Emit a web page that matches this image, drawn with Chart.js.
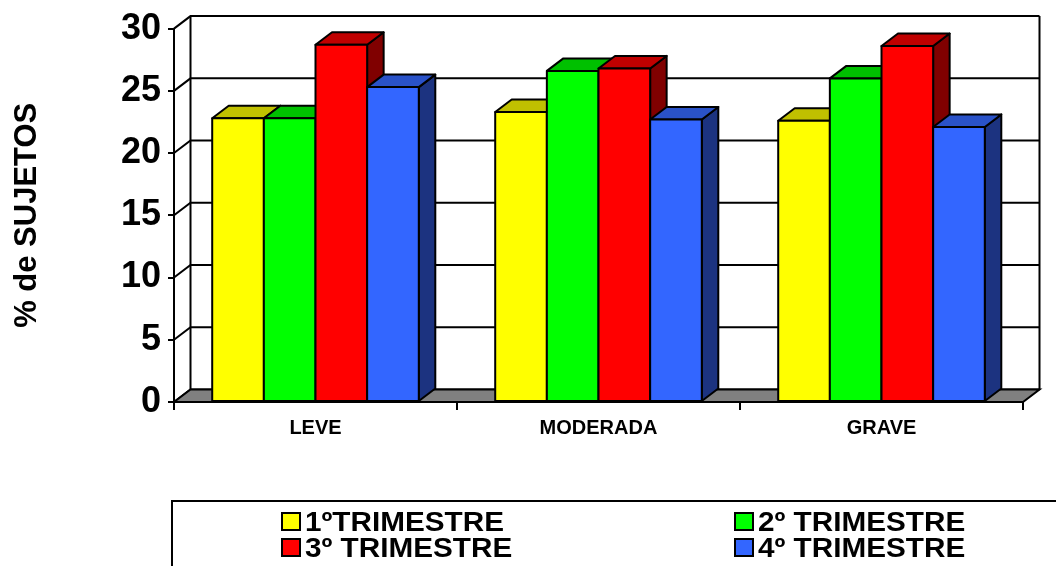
<!DOCTYPE html>
<html>
<head>
<meta charset="utf-8">
<script src="https://cdn.jsdelivr.net/npm/chart.js@4/dist/chart.umd.min.js"></script>
<style>
  html, body { margin: 0; padding: 0; background: #fff; }
  #wrap { width: 1056px; height: 566px; }
</style>
</head>
<body>
<div id="wrap"><canvas id="chart" width="1056" height="566"></canvas></div>
<script>
// datos
const categories = ['LEVE', 'MODERADA', 'GRAVE'];
const seriesLabels = ['1ºTRIMESTRE', '2º TRIMESTRE', '3º TRIMESTRE', '4º TRIMESTRE'];
const trim1 = [22.8, 23.3, 22.6];
const trim2 = [22.8, 26.6, 26.0];
const trim3 = [28.7, 26.8, 28.6];
const trim4 = [25.3, 22.7, 22.1];
const yMin = 0, yMax = 30, yStep = 5;
const yTitle = '% de SUJETOS';

// colores (frente, arriba, lado)
const frontColors = ['#FFFF00', '#00FF00', '#FF0000', '#3366FF'];
const topColors = ['#C0C000', '#00C000', '#C00000', '#2A52C8'];
const sideColors = ['#808000', '#008000', '#800000', '#1C3380'];

const FONT = "'Liberation Sans', Arial, sans-serif";
const DX = 16.5, DY = -12.5;   // profundidad 3D

// paredes y piso en perspectiva
const frame3d = {
    id: 'frame3d',
    beforeDatasetsDraw(chart) {
        const ctx = chart.ctx;
        const a = chart.chartArea;
        const y = chart.scales.y;
        ctx.save();
        ctx.lineWidth = 2;
        ctx.strokeStyle = '#000';

        // pared del fondo
        ctx.fillStyle = '#fff';
        ctx.fillRect(a.left + DX, a.top + DY, a.right - a.left, a.bottom - a.top);

        // líneas de cuadrícula: pared izquierda + fondo
        for (let v = yMin; v <= yMax; v += yStep) {
            const py = y.getPixelForValue(v);
            ctx.beginPath();
            ctx.moveTo(a.left, py);
            ctx.lineTo(a.left + DX, py + DY);
            ctx.lineTo(a.right + DX, py + DY);
            ctx.stroke();
        }
        // borde del fondo
        ctx.beginPath();
        ctx.moveTo(a.left + DX, a.bottom + DY);
        ctx.lineTo(a.left + DX, a.top + DY);
        ctx.moveTo(a.right + DX, a.top + DY);
        ctx.lineTo(a.right + DX, a.bottom + DY);
        ctx.stroke();

        // piso gris
        ctx.beginPath();
        ctx.moveTo(a.left, a.bottom);
        ctx.lineTo(a.right, a.bottom);
        ctx.lineTo(a.right + DX, a.bottom + DY);
        ctx.lineTo(a.left + DX, a.bottom + DY);
        ctx.closePath();
        ctx.fillStyle = '#808080';
        ctx.fill();
        ctx.stroke();
        ctx.restore();
    },
    // barras 3D redibujadas en orden de serie
    afterDatasetsDraw(chart) {
        const ctx = chart.ctx;
        ctx.save();
        ctx.lineWidth = 2;
        ctx.strokeStyle = '#000';
        ctx.lineJoin = 'round';
        chart.data.datasets.forEach((ds, i) => {
            const meta = chart.getDatasetMeta(i);
            meta.data.forEach(el => {
                const l = el.x - el.width / 2, r = el.x + el.width / 2;
                const t = Math.min(el.y, el.base), b = Math.max(el.y, el.base);
                // lado
                ctx.beginPath();
                ctx.moveTo(r, t);
                ctx.lineTo(r + DX, t + DY);
                ctx.lineTo(r + DX, b + DY);
                ctx.lineTo(r, b);
                ctx.closePath();
                ctx.fillStyle = sideColors[i];
                ctx.fill();
                ctx.stroke();
                // arriba
                ctx.beginPath();
                ctx.moveTo(l, t);
                ctx.lineTo(r, t);
                ctx.lineTo(r + DX, t + DY);
                ctx.lineTo(l + DX, t + DY);
                ctx.closePath();
                ctx.fillStyle = topColors[i];
                ctx.fill();
                ctx.stroke();
                // frente
                ctx.fillStyle = frontColors[i];
                ctx.fillRect(l, t, r - l, b - t);
                ctx.strokeRect(l, t, r - l, b - t);
            });
        });
        ctx.restore();
    },
    // leyenda con recuadro
    afterDraw(chart) {
        const ctx = chart.ctx;
        ctx.save();
        ctx.lineWidth = 2;
        ctx.strokeStyle = '#000';
        ctx.strokeRect(172, 501, 900, 80);

        const cols = [282, 735];
        const rows = [531, 557];
        ctx.font = 'bold 27px ' + FONT;
        ctx.textBaseline = 'alphabetic';
        ctx.textAlign = 'left';
        chart.data.datasets.forEach((ds, i) => {
            const cx = cols[i % 2], by = rows[Math.floor(i / 2)];
            ctx.fillStyle = ds.backgroundColor;
            ctx.fillRect(cx, by - 18, 18, 17);
            ctx.strokeRect(cx, by - 18, 18, 17);
            ctx.fillStyle = '#000';
            ctx.save();
            ctx.translate(cx + 23, by);
            ctx.scale(1.1, 1);
            ctx.fillText(ds.label, 0, 0);
            ctx.restore();
        });
        ctx.restore();
    }
};

const datasets = [trim1, trim2, trim3, trim4].map((d, i) => ({
    label: seriesLabels[i],
    data: d,
    backgroundColor: frontColors[i],
    borderColor: '#000',
    borderWidth: 2,
    categoryPercentage: 0.73,
    barPercentage: 1.0
}));

new Chart(document.getElementById('chart'), {
    type: 'bar',
    data: { labels: categories, datasets: datasets },
    plugins: [frame3d],
    options: {
        responsive: false,
        devicePixelRatio: 1,
        animation: false,
        layout: { padding: { top: 27, right: 33, left: 0, bottom: 0 } },
        plugins: {
            legend: { display: false },
            tooltip: { enabled: false }
        },
        scales: {
            x: {
                afterFit: s => { s.height = 164; },
                grid: {
                    offset: true,
                    drawOnChartArea: false,
                    drawTicks: true,
                    tickLength: 8,
                    color: '#000',
                    lineWidth: 2
                },
                border: { display: true, color: '#000', width: 2 },
                ticks: {
                    color: '#000',
                    padding: 6,
                    font: { family: FONT, size: 20, weight: 'bold' }
                }
            },
            y: {
                min: yMin,
                max: yMax,
                afterFit: s => { s.width = 174; },
                grid: {
                    drawOnChartArea: false,
                    drawTicks: true,
                    tickLength: 6,
                    color: '#000',
                    lineWidth: 2
                },
                border: { display: true, color: '#000', width: 2 },
                ticks: {
                    stepSize: yStep,
                    color: '#000',
                    padding: 7,
                    font: { family: FONT, size: 36, weight: 'bold' }
                },
                title: {
                    display: true,
                    text: yTitle,
                    color: '#000',
                    padding: { top: 9, bottom: 0 },
                    font: { family: FONT, size: 31, weight: 'bold' }
                }
            }
        }
    }
});
</script>
</body>
</html>
